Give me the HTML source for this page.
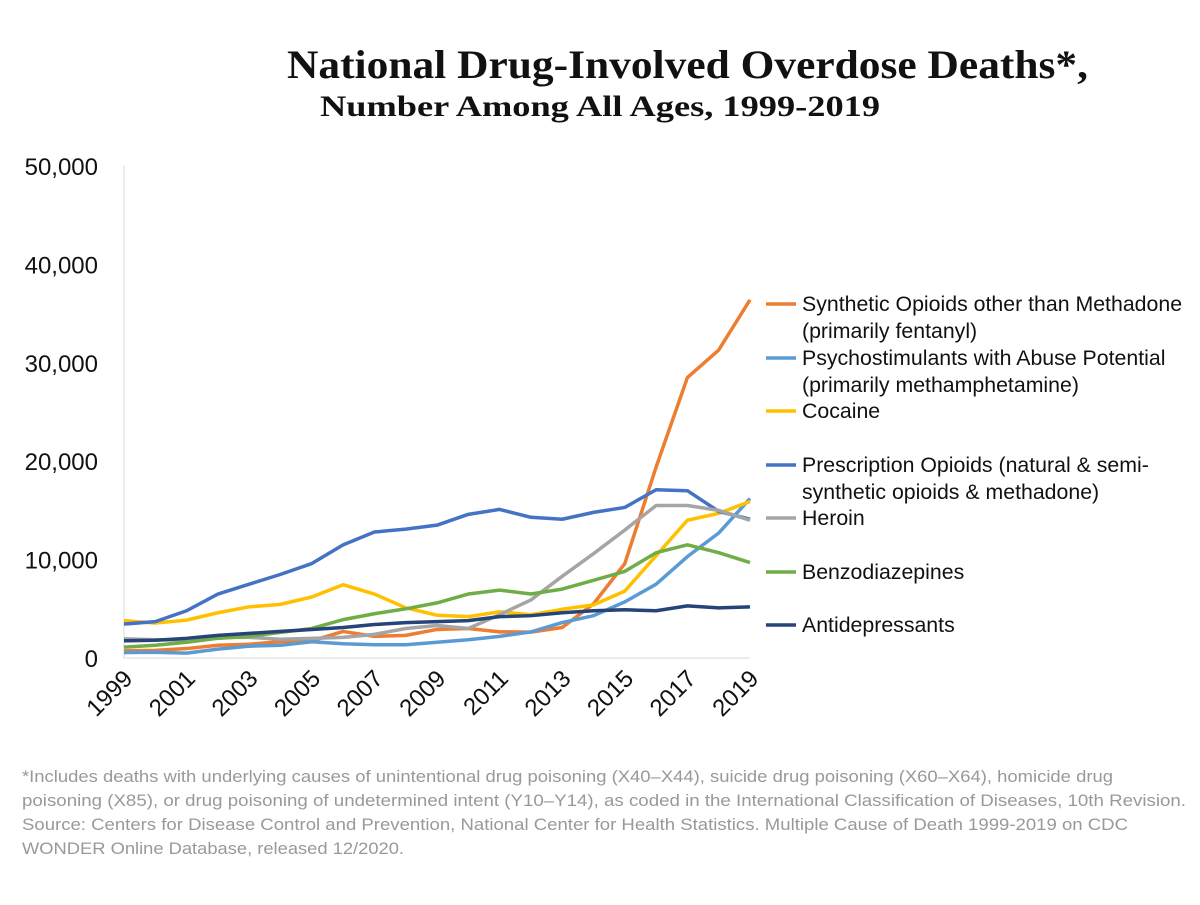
<!DOCTYPE html>
<html><head><meta charset="utf-8"><style>
body{margin:0;background:#fff;width:1200px;height:900px;overflow:hidden;font-family:"Liberation Sans",sans-serif}
</style></head><body>
<svg id="c" width="1200" height="900">
<text x="287" y="78" textLength="801" lengthAdjust="spacingAndGlyphs" font-family="Liberation Serif" font-weight="bold" font-size="40" fill="#111">National Drug-Involved Overdose Deaths*,</text>
<text x="320" y="116" textLength="560" lengthAdjust="spacingAndGlyphs" font-family="Liberation Serif" font-weight="bold" font-size="30" fill="#111">Number Among All Ages, 1999-2019</text>
<g id="ax"></g><g id="ln"></g><g id="lg"></g>
<g fill="#999" font-size="17">
<text x="22" y="782" textLength="1091" lengthAdjust="spacingAndGlyphs">*Includes deaths with underlying causes of unintentional drug poisoning (X40–X44), suicide drug poisoning (X60–X64), homicide drug</text>
<text x="22" y="806" textLength="1164" lengthAdjust="spacingAndGlyphs">poisoning (X85), or drug poisoning of undetermined intent (Y10–Y14), as coded in the International Classification of Diseases, 10th Revision.</text>
<text x="22" y="830" textLength="1106" lengthAdjust="spacingAndGlyphs">Source: Centers for Disease Control and Prevention, National Center for Health Statistics. Multiple Cause of Death 1999-2019 on CDC</text>
<text x="22" y="854" textLength="382" lengthAdjust="spacingAndGlyphs">WONDER Online Database, released 12/2020.</text>
</g>
</svg>
<script>
const years=[1999,2000,2001,2002,2003,2004,2005,2006,2007,2008,2009,2010,2011,2012,2013,2014,2015,2016,2017,2018,2019];
const yTicks=[0,10000,20000,30000,40000,50000];
const xTickYears=[1999,2001,2003,2005,2007,2009,2011,2013,2015,2017,2019];
const synthetic=[730,780,960,1300,1400,1660,1740,2700,2200,2300,2900,3000,2660,2630,3100,5500,9600,19400,28500,31300,36400];
const psycho=[550,580,500,900,1200,1300,1650,1450,1350,1350,1600,1850,2200,2650,3600,4300,5700,7500,10300,12700,16200];
const cocaine=[3800,3550,3850,4600,5200,5450,6200,7450,6500,5100,4350,4200,4700,4400,4950,5400,6800,10400,14000,14700,15900];
const rxOpioids=[3450,3700,4800,6500,7500,8500,9600,11500,12800,13100,13500,14600,15100,14300,14100,14800,15300,17100,17000,14900,14100];
const heroin=[1950,1850,1800,2100,2100,1900,2000,2100,2400,3000,3300,3000,4400,5900,8300,10600,13000,15500,15500,15000,14000];
const benzo=[1100,1300,1600,2000,2200,2600,3000,3900,4500,5000,5600,6500,6900,6500,7000,7900,8800,10700,11500,10700,9700];
const antidep=[1750,1800,2000,2300,2500,2700,2900,3100,3400,3600,3700,3800,4200,4300,4600,4800,4900,4800,5300,5100,5200];
const series=[
 {n:"synthetic-opioids",d:synthetic,c:"#ED7D31",l:["Synthetic Opioids other than Methadone","(primarily fentanyl)"],ly:304},
 {n:"psychostimulants",d:psycho,c:"#5B9BD5",l:["Psychostimulants with Abuse Potential","(primarily methamphetamine)"],ly:358},
 {n:"cocaine",d:cocaine,c:"#FFC000",l:["Cocaine"],ly:411},
 {n:"prescription-opioids",d:rxOpioids,c:"#4472C4",l:["Prescription Opioids (natural & semi-","synthetic opioids & methadone)"],ly:465},
 {n:"heroin",d:heroin,c:"#A5A5A5",l:["Heroin"],ly:518},
 {n:"benzodiazepines",d:benzo,c:"#70AD47",l:["Benzodiazepines"],ly:572},
 {n:"antidepressants",d:antidep,c:"#264478",l:["Antidepressants"],ly:625}];
const X0=124,X1=750,Y0=658,Y1=166;
const xs=y=>X0+(y-1999)*(X1-X0)/20;
const ys=v=>Y0-v*(Y0-Y1)/50000;
const NS="http://www.w3.org/2000/svg";
function mk(p,t,a){const e=document.createElementNS(NS,t);for(const k in a)e.setAttribute(k,a[k]);p.appendChild(e);return e;}
const ax=document.getElementById('ax');
const yl=mk(ax,'line',{x1:X0,x2:X0,y1:Y1,y2:Y0,stroke:'#d9d9d9'});


const xl=mk(ax,'line',{x1:X0,x2:X1,y1:Y0,y2:Y0,stroke:'#d9d9d9'});


yTicks.forEach(v=>{const t=mk(ax,'text',{x:98,y:ys(v)+9,'text-anchor':'end','font-size':24,fill:'#111'});t.textContent=v.toLocaleString('en-US');

});
xTickYears.forEach(yr=>{const x=xs(yr);const t=mk(ax,'text',{x:x+10,y:680,'text-anchor':'end','font-size':24,fill:'#111',transform:`rotate(-45 ${x+10} 680)`});t.textContent=yr;

});
const ln=document.getElementById('ln'),lg=document.getElementById('lg');
series.forEach(s=>{const p=mk(ln,'polyline',{points:s.d.map((v,i)=>xs(years[i])+','+ys(v)).join(' '),fill:'none',stroke:s.c,'stroke-width':3.5,'stroke-linejoin':'round'});


const g=mk(lg,'g',{});


mk(g,'line',{x1:766,x2:796,y1:s.ly,y2:s.ly,stroke:s.c,'stroke-width':3.5});
s.l.forEach((t,i)=>{const e=mk(g,'text',{x:802,y:s.ly+7+i*27,'font-size':21.3,fill:'#111'});e.textContent=t;});});
</script>
</body></html>
